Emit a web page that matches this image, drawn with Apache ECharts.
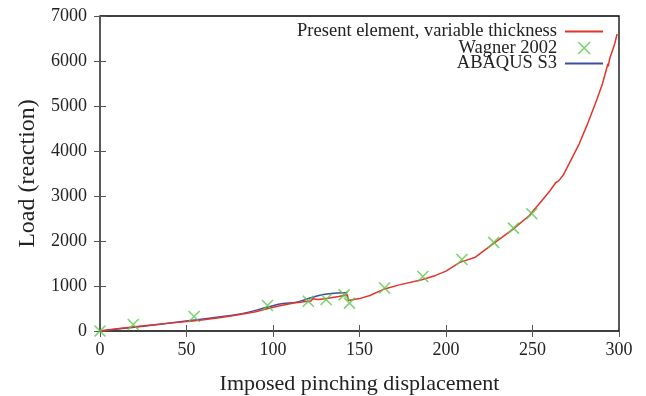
<!DOCTYPE html>
<html>
<head>
<meta charset="utf-8">
<script src="https://cdn.jsdelivr.net/npm/echarts@6/dist/echarts.min.js"></script>
<style>html,body{margin:0;padding:0;background:#fff}#c{width:646px;height:396px}</style>
</head>
<body>
<div id="c"></div>
<script>
// Present element, variable thickness
var presentX = [0,10,20,30,40,52,60,70,80,90,96,104,112,119,122,123,126,130,138,143,143.6,150,156,164.5,173,186,194,200,208,217,227,239,248,255,260,263.5,264.3,265,267.7,267.9,268.2,272,277,282,287,290.5,293.6,293.8,294.6,297.5,298.9];
var presentY = [0,50,95,135,175,215,250,300,360,430,490,560,620,656,665,715,700,715,765,805,680,720,789,935,1025,1140,1235,1330,1525,1640,1930,2270,2560,2880,3110,3300,3265,3330,3460,3420,3480,3780,4160,4620,5120,5500,5940,5880,6050,6380,6600];
// Wagner 2002
var wagnerX = [0,19.2,54.4,96.8,120.4,130.7,141.1,144.2,164.5,186.6,209.2,227.6,239,249.6];
var wagnerY = [0,144,322,567,662,700,804,618,955,1211,1590,1970,2285,2605];
// ABAQUS S3
var abaqusX = [0,20,52,80,96,104,113.5,118,123,129,133,137,143];
var abaqusY = [0,85,233,370,520,600,640,690,750,810,830,845,848];
// axis ticks
var xTicks = {min:0, max:300, interval:50};
var yTicks = {min:0, max:7000, interval:1000};

function zip(a,b){return a.map(function(v,i){return [v,b[i]];});}
var FONT = 'Liberation Serif';
var TXT = '#222';
var RED = '#e3342b', GREEN = '#5cc84e', BLUE = '#3c4ea2';
var cross = 'path://M0,0L10,10M10,0L0,10';
var LFS = 18.5;

var chart = echarts.init(document.getElementById('c'), null, {renderer:'canvas'});
function legendItem(name, top, right, icon, w, h, style, pad){
  return {
    right: right, top: top, orient:'vertical', align:'right',
    itemWidth: w, itemHeight: h,
    data:[{name:name, icon:icon, itemStyle: style}],
    textStyle:{fontFamily:FONT, fontSize:LFS, color:TXT, padding:[0,pad,0,0]},
    selectedMode:false, padding:0
  };
}
var tickLabel = function(v){ return String(v); };
chart.setOption({
  animation:false,
  backgroundColor:'#fff',
  grid:{left:100, right:27, top:16, bottom:65, show:true, borderColor:'#000', borderWidth:1.3,
        containLabel:false, outerBoundsMode:'none'},
  legend:[
    legendItem('Present element, variable thickness', 22, 43, 'rect', 38, 2, {color:RED, borderWidth:0}, 3),
    legendItem('Wagner 2002', 38.5, 55, cross, 12, 12, {color:'transparent', borderColor:GREEN, borderWidth:1.6}, 16),
    legendItem('ABAQUS S3', 54, 43, 'rect', 38, 2, {color:BLUE, borderWidth:0}, 3)
  ],
  xAxis:[{
    type:'value', min:xTicks.min, max:xTicks.max, interval:xTicks.interval,
    name:'Imposed pinching displacement', nameLocation:'middle', nameGap:42,
    nameTextStyle:{fontFamily:FONT, fontSize:22, color:TXT},
    axisLine:{show:false}, splitLine:{show:false},
    axisTick:{inside:true, length:6, lineStyle:{color:'#555'}},
    axisLabel:{fontFamily:FONT, fontSize:18, color:TXT, margin:10, formatter:tickLabel}
  },{
    type:'value', position:'top', min:xTicks.min, max:xTicks.max, interval:xTicks.interval,
    axisLine:{show:false}, splitLine:{show:false}, axisLabel:{show:false},
    axisTick:{inside:true, length:6, lineStyle:{color:'#555'}}
  }],
  yAxis:[{
    type:'value', min:yTicks.min, max:yTicks.max, interval:yTicks.interval,
    name:'Load (reaction)', nameLocation:'middle', nameGap:55,
    nameTextStyle:{fontFamily:FONT, fontSize:24, color:TXT},
    axisLine:{show:false}, splitLine:{show:false},
    axisTick:{inside:true, length:6, lineStyle:{color:'#555'}},
    axisLabel:{fontFamily:FONT, fontSize:18, color:TXT, margin:13, formatter:tickLabel}
  },{
    type:'value', position:'right', min:yTicks.min, max:yTicks.max, interval:yTicks.interval,
    axisLine:{show:false}, splitLine:{show:false}, axisLabel:{show:false},
    axisTick:{inside:true, length:6, lineStyle:{color:'#555'}}
  }],
  series:[
    {name:'Present element, variable thickness', type:'line', data:zip(presentX,presentY),
     showSymbol:false, symbol:'none', lineStyle:{color:RED, width:1.5}, itemStyle:{color:RED}, z:3},
    {name:'Wagner 2002', type:'scatter', data:zip(wagnerX,wagnerY),
     symbol:cross, symbolSize:11,
     itemStyle:{color:'transparent', borderColor:GREEN, borderWidth:1.6}, z:4},
    {name:'ABAQUS S3', type:'line', data:zip(abaqusX,abaqusY),
     showSymbol:false, symbol:'none', smooth:0.3, lineStyle:{color:BLUE, width:1.5}, itemStyle:{color:BLUE}, z:2}
  ]
});
</script>
</body>
</html>
